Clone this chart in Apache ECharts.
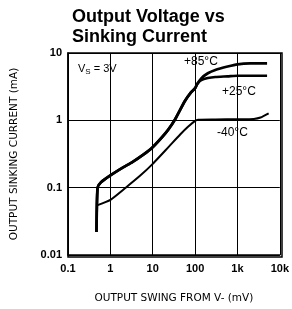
<!DOCTYPE html>
<html>
<head>
<meta charset="utf-8">
<style>
    html, body { margin: 0; padding: 0; background: #fff; }
    #chart { width: 292px; height: 309px; }
</style>
<script src="https://cdn.jsdelivr.net/npm/echarts@6/dist/echarts.min.js"></script>
</head>
<body>
<div id="chart"></div>
<script>
    // axis ticks
    var xTicks = ['0.1', '1', '10', '100', '1k', '10k'];
    var yTicks = ['0.01', '0.1', '1', '10'];

    // +85°C and +25°C run together up to ~110 mV
    var x85 = [0.47, 0.5, 0.6, 1, 2, 3.3, 6, 9.6, 16.5, 23, 33.6, 57, 80, 100, 112, 140, 200, 300, 585, 1000, 2000, 5000];
    var y85 = [0.022, 0.1, 0.12, 0.152, 0.2, 0.24, 0.31, 0.39, 0.56, 0.72, 1.03, 1.92, 2.6, 3.0, 3.45, 4.2, 5.0, 5.6, 6.3, 6.8, 7.0, 7.0];

    var x25 = [0.47, 0.5, 0.6, 1, 2, 3.3, 6, 9.6, 16.5, 23, 33.6, 57, 80, 100, 112, 140, 200, 300, 585, 1000, 2000, 5000];
    var y25 = [0.022, 0.1, 0.12, 0.152, 0.2, 0.24, 0.31, 0.39, 0.56, 0.72, 1.03, 1.92, 2.6, 3.0, 3.45, 3.95, 4.24, 4.4, 4.5, 4.6, 4.6, 4.6];

    var xm40 = [0.5, 1, 2.3, 5, 9.6, 23.5, 45, 68, 100, 117, 300, 1000, 2440, 3500, 5450];
    var ym40 = [0.055, 0.066, 0.1, 0.15, 0.22, 0.40, 0.62, 0.8, 0.98, 1.02, 1.03, 1.04, 1.05, 1.1, 1.27];

    function pairs(xs, ys) {
        var out = [];
        for (var i = 0; i < xs.length; i++) out.push([xs[i], ys[i]]);
        return out;
    }

    var font = 'Liberation Sans, Arial, sans-serif';
    var nameFont = 'DejaVu Sans, sans-serif';
    var chart = echarts.init(document.getElementById('chart'));
    chart.setOption({
        animation: false,
        title: {
            text: 'Output Voltage vs\nSinking Current',
            left: 67, top: 2,
            textStyle: { fontFamily: font, fontSize: 18, fontWeight: 'bold', color: '#000', lineHeight: 20 }
        },
        grid: { left: 68, right: 10, top: 53, bottom: 52 },
        xAxis: {
            type: 'log', logBase: 10, min: 0.1, max: 10000,
            name: 'OUTPUT SWING FROM V- (mV)',
            nameLocation: 'middle', nameGap: 38,
            nameTextStyle: { fontFamily: nameFont, fontSize: 10.5, color: '#000' },
            axisLine: { lineStyle: { color: '#000', width: 1.5 } },
            axisTick: { show: false },
            minorTick: { show: false },
            splitLine: { show: true, lineStyle: { color: '#000', width: 1 } },
            axisLabel: {
                margin: 8, color: '#000', fontFamily: font, fontSize: 11, fontWeight: 'bold',
                formatter: function (v) { return xTicks[Math.round(Math.log10(v)) + 1]; }
            }
        },
        yAxis: {
            type: 'log', logBase: 10, min: 0.01, max: 10,
            name: 'OUTPUT SINKING CURRENT (mA)',
            nameLocation: 'middle', nameGap: 48,
            nameTextStyle: { fontFamily: nameFont, fontSize: 10.5, color: '#000' },
            axisLine: { show: true, lineStyle: { color: '#000', width: 1.5 } },
            axisTick: { show: false },
            splitLine: { show: true, lineStyle: { color: '#000', width: 1 } },
            axisLabel: {
                margin: 6, color: '#000', fontFamily: font, fontSize: 11, fontWeight: 'bold',
                formatter: function (v) { return yTicks[Math.round(Math.log10(v)) + 2]; }
            }
        },
        series: [
            { name: '+85°C', type: 'line', data: pairs(x85, y85), showSymbol: false, smooth: 0.2,
              lineStyle: { color: '#000', width: 2.8 } },
            { name: '+25°C', type: 'line', data: pairs(x25, y25), showSymbol: false, smooth: 0.2,
              lineStyle: { color: '#000', width: 2.6 } },
            { name: '-40°C', type: 'line', data: pairs(xm40, ym40), showSymbol: false, smooth: 0.2,
              lineStyle: { color: '#000', width: 2 } }
        ],
        graphic: [
            { type: 'rect', shape: { x: 68, y: 53, width: 214, height: 204 },
              style: { fill: 'none', stroke: '#000', lineWidth: 1.5 }, z: 10 },
            { type: 'text', left: 78, top: 63, z: 20,
              style: { text: '{a|V}{s|S}{a| = 3V}', fill: '#000',
                rich: { a: { fontFamily: font, fontSize: 11 }, s: { fontFamily: font, fontSize: 8, padding: [6, 0, 0, 0] } } } },
            { type: 'text', left: 184, top: 56, z: 20,
              style: { text: '+85°C', fill: '#000', font: '12px ' + font } },
            { type: 'text', left: 222, top: 86, z: 20,
              style: { text: '+25°C', fill: '#000', font: '12px ' + font } },
            { type: 'text', left: 217, top: 127, z: 20,
              style: { text: '-40°C', fill: '#000', font: '12px ' + font } }
        ]
    });
</script>
</body>
</html>
